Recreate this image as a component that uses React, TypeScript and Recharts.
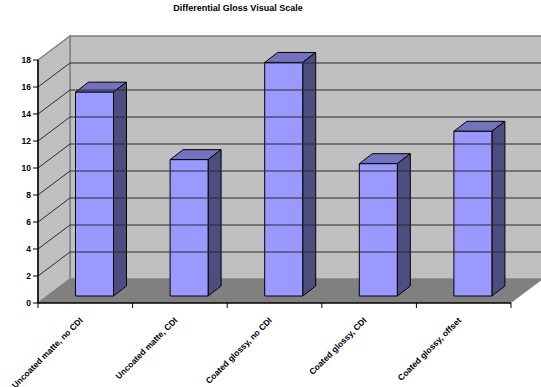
import React from 'react';
import { BarChart, Bar, XAxis, YAxis, ReferenceArea, ReferenceLine } from 'recharts';

const CATEGORIES = [
  'Uncoated matte, no CDI',
  'Uncoated matte, CDI',
  'Coated glossy, no CDI',
  'Coated glossy, CDI',
  'Coated glossy, offset',
];
const GLOSS_VALUES = [15.1, 10.1, 17.3, 9.8, 12.2];
const Y_TICKS = [0, 2, 4, 6, 8, 10, 12, 14, 16, 18];

const chartData = CATEGORIES.map((name, i) => ({ name, gloss: GLOSS_VALUES[i] }));

const FONT = '"Liberation Sans", Arial, sans-serif';
// how far the back wall sits behind the front plane
const WALL_DX = 32;
const WALL_DY = 24;
// bars stand part way back on the floor and have their own depth
const BAR_SHIFT_X = 9.5;
const BAR_SHIFT_Y = 7;
const BAR_DX = 13;
const BAR_DY = 10;

const pts = (list: number[][]) => list.map((p) => p.join(',')).join(' ');

// side wall, back wall and floor of the 3D box
const WallsShape = ({ x, y, width, height }: any) => {
  const bottom = y + height;
  const right = x + width;
  return (
    <g>
      <polygon
        points={pts([[x + WALL_DX, y - WALL_DY], [right + WALL_DX, y - WALL_DY], [right + WALL_DX, bottom - WALL_DY], [x + WALL_DX, bottom - WALL_DY]])}
        fill="#c0c0c0"
        stroke="#808080"
        strokeWidth={1.5}
      />
      <polygon
        points={pts([[x, y], [x + WALL_DX, y - WALL_DY], [x + WALL_DX, bottom - WALL_DY], [x, bottom]])}
        fill="#c0c0c0"
        stroke="#808080"
        strokeWidth={1.5}
      />
      <polygon
        points={pts([[x, bottom], [x + WALL_DX, bottom - WALL_DY], [right + WALL_DX, bottom - WALL_DY], [right, bottom]])}
        fill="#808080"
      />
    </g>
  );
};

// a gridline runs across the side wall and then along the back wall
const GridShape = ({ x1, y1, x2 }: any) => (
  <polyline
    points={pts([[x1, y1], [x1 + WALL_DX, y1 - WALL_DY], [x2 + WALL_DX, y1 - WALL_DY]])}
    fill="none"
    stroke="#2a2a2a"
    strokeWidth={1}
  />
);

const BoxBar = ({ x, y, width, height }: any) => {
  const left = x + BAR_SHIFT_X;
  const top = y - BAR_SHIFT_Y;
  const right = left + width;
  const bottom = top + height;
  return (
    <g stroke="#000" strokeWidth={1} strokeLinejoin="round">
      <polygon
        points={pts([[left, top], [left + BAR_DX, top - BAR_DY], [right + BAR_DX, top - BAR_DY], [right, top]])}
        fill="#7272bf"
      />
      <polygon
        points={pts([[right, top], [right + BAR_DX, top - BAR_DY], [right + BAR_DX, bottom - BAR_DY], [right, bottom]])}
        fill="#4d4d80"
      />
      <rect x={left} y={top} width={width} height={height} fill="#9999ff" />
    </g>
  );
};

const BAND = 94.6;

const CategoryTick = ({ x, y, index, payload }: any) => (
  <g>
    <line x1={x - BAND / 2} y1={y - 8} x2={x - BAND / 2} y2={y - 3} stroke="#000" />
    {index === CATEGORIES.length - 1 && (
      <line x1={x + BAND / 2} y1={y - 8} x2={x + BAND / 2} y2={y - 3} stroke="#000" />
    )}
    <text
      x={x - 2}
      y={y + 10}
      textAnchor="end"
      transform={`rotate(-45 ${x - 2} ${y + 10})`}
      fontFamily={FONT}
      fontSize={8.5}
      fontWeight="bold"
      fill="#000"
    >
      {payload.value}
    </text>
  </g>
);

export default function App() {
  return (
    <div style={{ position: 'absolute', left: 0, top: 0, width: 541, height: 387, background: '#fff', overflow: 'hidden' }}>
      <div
        style={{
          position: 'absolute',
          top: 3,
          left: 0,
          width: 476,
          textAlign: 'center',
          fontFamily: FONT,
          fontSize: 9,
          fontWeight: 'bold',
          color: '#000',
        }}
      >
        Differential Gloss Visual Scale
      </div>
      <BarChart
        width={541}
        height={387}
        data={chartData}
        margin={{ top: 60, right: 30, bottom: 0, left: 0 }}
        barCategoryGap={0}
        style={{ overflow: 'hidden' }}
      >
        <ReferenceArea y1={0} y2={18} ifOverflow="visible" shape={<WallsShape />} />
        {Y_TICKS.slice(1, -1).map((t) => (
          <ReferenceLine key={t} y={t} ifOverflow="visible" shape={<GridShape />} />
        ))}
        <XAxis
          dataKey="name"
          height={84}
          interval={0}
          tickLine={false}
          axisLine={{ stroke: '#000', strokeWidth: 1.5 }}
          tick={<CategoryTick />}
        />
        <YAxis
          width={38}
          domain={[0, 18]}
          ticks={Y_TICKS}
          interval={0}
          tickSize={5}
          tickMargin={2}
          axisLine={{ stroke: '#000', strokeWidth: 1.5 }}
          tickLine={{ stroke: '#000' }}
          tick={{ fontFamily: FONT, fontSize: 8.5, fontWeight: 'bold', fill: '#000' }}
        />
        <Bar dataKey="gloss" barSize={38} shape={<BoxBar />} isAnimationActive={false} />
      </BarChart>
    </div>
  );
}
